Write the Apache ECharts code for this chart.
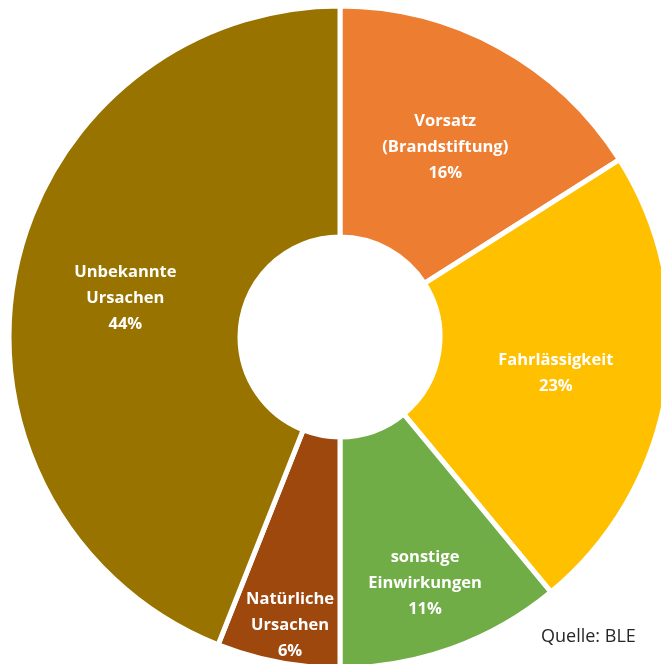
<!DOCTYPE html>
<html>
<head>
<meta charset="utf-8">
<script src="https://cdn.jsdelivr.net/npm/echarts@6/dist/echarts.min.js"></script>
<style>
html,body{margin:0;padding:0;background:#fff;}
#chart{width:661px;height:664px;}
</style>
</head>
<body>
<div id="chart"></div>
<script>
const categories = ['Vorsatz\n(Brandstiftung)', 'Fahrlässigkeit', 'sonstige\nEinwirkungen', 'Natürliche\nUrsachen', 'Unbekannte\nUrsachen'];
const values = [16, 23, 11, 6, 44];
const colors = ['#ED7D31', '#FFC000', '#70AD47', '#9E480E', '#997300'];
const labelOffsets = [[0, 2], [0, 2], [11, 41], [-9, 74], [0, 2]];

const chart = echarts.init(document.getElementById('chart'), null, {renderer: 'canvas'});
chart.setOption({
  backgroundColor: '#ffffff',
  animation: false,
  title: {
    text: 'Quelle: BLE',
    left: 541,
    top: 628,
    padding: 0,
    textStyle: {fontFamily: 'Open Sans', fontSize: 18, fontWeight: 'normal', color: '#262626'}
  },
  series: [{
    type: 'pie',
    center: [340, 337],
    radius: [100, 331],
    startAngle: 90,
    clockwise: true,
    avoidLabelOverlap: false,
    labelLine: {show: false},
    itemStyle: {borderColor: '#ffffff', borderWidth: 5},
    emphasis: {disabled: true},
    label: {
      show: true,
      position: 'inside',
      color: '#ffffff',
      fontFamily: 'Open Sans',
      fontWeight: 'bold',
      fontSize: 16.5,
      lineHeight: 26,
      align: 'center',
      formatter: p => p.name + '\n' + p.value + '%'
    },
    data: categories.map((c, i) => ({
      name: c,
      value: values[i],
      itemStyle: {color: colors[i]},
      label: {offset: labelOffsets[i]}
    }))
  }]
});
</script>
</body>
</html>
